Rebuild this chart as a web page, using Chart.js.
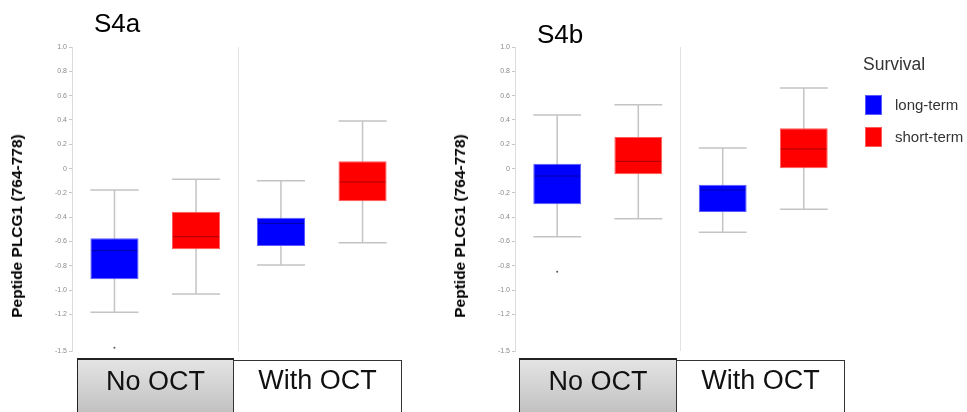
<!DOCTYPE html>
<html>
<head>
<meta charset="utf-8">
<script src="https://cdn.jsdelivr.net/npm/chart.js@4.4.1/dist/chart.umd.min.js"></script>
<style>
  html, body { margin:0; padding:0; background:#fff; }
  body { width:967px; height:412px; overflow:hidden; position:relative; font-family:"Liberation Sans", Arial, sans-serif; }
  .abs { position:absolute; white-space:nowrap; }
  .ytitle { font-weight:bold; font-size:15.5px; line-height:18px; color:#000; transform:translate(-50%,-50%) rotate(-90deg); }
  .panel { font-size:26px; line-height:26px; color:#000; }
  .catbox { position:absolute; box-sizing:border-box; height:62px; border:1.5px solid #222; }
  .catbox span { position:absolute; left:0; right:0; text-align:center; font-size:27px; line-height:27px; color:#111; }
  .grey { background:linear-gradient(#e4e4e4, #bdbdbd); border-top:2px solid #222; }
  .white { background:#fff; border:1px solid #333; }
  canvas { position:absolute; top:0; }
</style>
</head>
<body>
<canvas id="cA" width="430" height="412" style="left:0px"></canvas>
<canvas id="cB" width="430" height="412" style="left:443px"></canvas>
<div class="abs panel" style="left:94px; top:10px;">S4a</div>
<div class="abs panel" style="left:537px; top:21px;">S4b</div>
<div class="abs ytitle" style="left:16.5px; top:225.5px;">Peptide PLCG1 (764-778)</div>
<div class="abs ytitle" style="left:459.5px; top:225.5px;">Peptide PLCG1 (764-778)</div>
<div id="legend"></div>
<div id="cats"></div>
<script>
// ---- data ----
const categories = ['No OCT', 'With OCT'];
const seriesLabels = ['long-term', 'short-term'];
const seriesColors = ['#0000ff', '#ff0000'];
const seriesBorders = ['#5a5aff', '#ff5a5a'];
const legendTitle = 'Survival';
const yTitle = 'Peptide PLCG1 (764-778)';
const tickValues = [1.0, 0.8, 0.6, 0.4, 0.2, 0, -0.2, -0.4, -0.6, -0.8, -1.0, -1.2, -1.5];
const tickLabels = ['1.0', '0.8', '0.6', '0.4', '0.2', '0', '-0.2', '-0.4', '-0.6', '-0.8', '-1.0', '-1.2', '-1.5'];

// S4a
const aLongMin = [-1.182, -0.793];
const aLongQ1  = [-0.910, -0.637];
const aLongMed = [-0.675, -0.450];
const aLongQ3  = [-0.573, -0.404];
const aLongMax = [-0.176, -0.100];
const aLongOut = [[-1.473], []];
const aShortMin = [-1.031, -0.609];
const aShortQ1  = [-0.664, -0.269];
const aShortMed = [-0.560, -0.110];
const aShortQ3  = [-0.354, 0.060];
const aShortMax = [-0.088, 0.391];
const aShortOut = [[], []];

// S4b
const bLongMin = [-0.560, -0.524];
const bLongQ1  = [-0.294, -0.357];
const bLongMed = [-0.061, -0.176];
const bLongQ3  = [0.040, -0.132];
const bLongMax = [0.441, 0.169];
const bLongOut = [[-0.848], []];
const bShortMin = [-0.412, -0.335];
const bShortQ1  = [-0.047, 0.002];
const bShortMed = [0.060, 0.161];
const bShortQ3  = [0.260, 0.331];
const bShortMax = [0.525, 0.663];
const bShortOut = [[], []];

// ---- box plot helper plugin (uses library scales/elements) ----
const boxWhiskers = {
  id: 'boxWhiskers',
  beforeDatasetsDraw(chart, args, opts) {
    const ctx = chart.ctx, ys = chart.scales.y;
    opts.stats.forEach((s, i) => {
      chart.getDatasetMeta(i).data.forEach((bar, j) => {
        const p = bar.getProps(['x', 'width'], true);
        const xl = p.x - p.width / 2, xr = p.x + p.width / 2;
        const pMax = ys.getPixelForValue(s.max[j]);
        const pMin = ys.getPixelForValue(s.min[j]);
        ctx.save();
        ctx.strokeStyle = '#c4c4c4';
        ctx.lineWidth = 1.5;
        ctx.beginPath();
        ctx.moveTo(p.x, pMax); ctx.lineTo(p.x, pMin);
        ctx.moveTo(xl, pMax); ctx.lineTo(xr, pMax);
        ctx.moveTo(xl, pMin); ctx.lineTo(xr, pMin);
        ctx.stroke();
        ctx.restore();
      });
    });
  },
  afterDatasetsDraw(chart, args, opts) {
    const ctx = chart.ctx, ys = chart.scales.y;
    opts.stats.forEach((s, i) => {
      chart.getDatasetMeta(i).data.forEach((bar, j) => {
        const p = bar.getProps(['x', 'width'], true);
        const xl = p.x - p.width / 2, xr = p.x + p.width / 2;
        const pMed = ys.getPixelForValue(s.med[j]);
        ctx.save();
        ctx.strokeStyle = 'rgba(0,0,0,0.35)';
        ctx.lineWidth = 1;
        ctx.beginPath();
        ctx.moveTo(xl + 1, pMed); ctx.lineTo(xr - 1, pMed);
        ctx.stroke();
        ctx.fillStyle = '#555';
        s.out[j].forEach(v => {
          ctx.beginPath();
          ctx.arc(p.x, ys.getPixelForValue(v), 1, 0, Math.PI * 2);
          ctx.fill();
        });
        ctx.restore();
      });
    });
  }
};

function makeChart(id, stats, rightPad) {
  const datasets = stats.map((s, i) => ({
    label: seriesLabels[i],
    data: categories.map((c, j) => [s.q1[j], s.q3[j]]),
    backgroundColor: seriesColors[i],
    borderColor: seriesBorders[i],
    borderWidth: 1,
    borderSkipped: false,
    categoryPercentage: 0.98,
    barPercentage: 0.59
  }));
  return new Chart(document.getElementById(id), {
    type: 'bar',
    data: { labels: categories, datasets },
    plugins: [boxWhiskers],
    options: {
      responsive: false,
      animation: false,
      events: [],
      layout: { padding: { left: 0, top: 47, right: rightPad, bottom: 61 } },
      plugins: {
        legend: { display: false },
        tooltip: { enabled: false },
        boxWhiskers: { stats }
      },
      scales: {
        x: {
          type: 'category',
          display: true,
          offset: true,
          ticks: { display: false },
          border: { display: false },
          grid: {
            offset: true,
            drawTicks: false,
            lineWidth: 1,
            color: (c) => c.index === 1 ? '#e2e2e2' : 'rgba(0,0,0,0)'
          },
          afterFit(scale) { scale.height = 0; }
        },
        y: {
          min: -1.5,
          max: 1.0,
          afterBuildTicks(scale) { scale.ticks = tickValues.map(v => ({ value: v })); },
          afterFit(scale) { scale.width = 72; },
          ticks: {
            autoSkip: false,
            padding: 2,
            color: '#8a8a8a',
            font: { family: 'Liberation Sans, Arial, sans-serif', size: 7 },
            callback: (v) => { const k = tickValues.findIndex(t => Math.abs(t - v) < 1e-9); return k >= 0 ? tickLabels[k] : ''; }
          },
          border: { display: true, color: '#dcdcdc', width: 1 },
          grid: { drawOnChartArea: false, drawTicks: true, tickLength: 3, color: '#c8c8c8' }
        }
      }
    }
  });
}

const statsA = [
  { min: aLongMin, q1: aLongQ1, med: aLongMed, q3: aLongQ3, max: aLongMax, out: aLongOut },
  { min: aShortMin, q1: aShortQ1, med: aShortMed, q3: aShortQ3, max: aShortMax, out: aShortOut }
];
const statsB = [
  { min: bLongMin, q1: bLongQ1, med: bLongMed, q3: bLongQ3, max: bLongMax, out: bLongOut },
  { min: bShortMin, q1: bShortQ1, med: bShortMed, q3: bShortQ3, max: bShortMax, out: bShortOut }
];
makeChart('cA', statsA, 25);
makeChart('cB', statsB, 27);

// ---- category label boxes ----
const catBoxes = [
  { left: 77, top: 358, width: 157, cls: 'grey', label: categories[0] },
  { left: 233, top: 360, width: 169, cls: 'white', label: categories[1] },
  { left: 519, top: 358, width: 158, cls: 'grey', label: categories[0] },
  { left: 676, top: 360, width: 169, cls: 'white', label: categories[1] }
];
const cats = document.getElementById('cats');
catBoxes.forEach(b => {
  const d = document.createElement('div');
  d.className = 'catbox ' + b.cls;
  d.style.left = b.left + 'px'; d.style.top = b.top + 'px'; d.style.width = b.width + 'px';
  const s = document.createElement('span');
  s.textContent = b.label;
  s.style.top = (368 - b.top - 2) + 'px';
  d.appendChild(s);
  cats.appendChild(d);
});

// ---- legend ----
const lg = document.getElementById('legend');
const t = document.createElement('div');
t.className = 'abs';
t.style.cssText = 'left:863px; top:56px; font-size:17.5px; line-height:17.5px; color:#333;';
t.textContent = legendTitle;
lg.appendChild(t);
seriesLabels.forEach((lab, i) => {
  const top = 95 + i * 32;
  const sw = document.createElement('div');
  sw.className = 'abs';
  sw.style.cssText = `left:865px; top:${top}px; width:17px; height:20px; box-sizing:border-box; background:${seriesColors[i]}; border:1px solid ${seriesBorders[i]};`;
  lg.appendChild(sw);
  const tx = document.createElement('div');
  tx.className = 'abs';
  tx.style.cssText = `left:895px; top:${top}px; font-size:15px; line-height:20px; color:#333;`;
  tx.textContent = lab;
  lg.appendChild(tx);
});
</script>
</body>
</html>
